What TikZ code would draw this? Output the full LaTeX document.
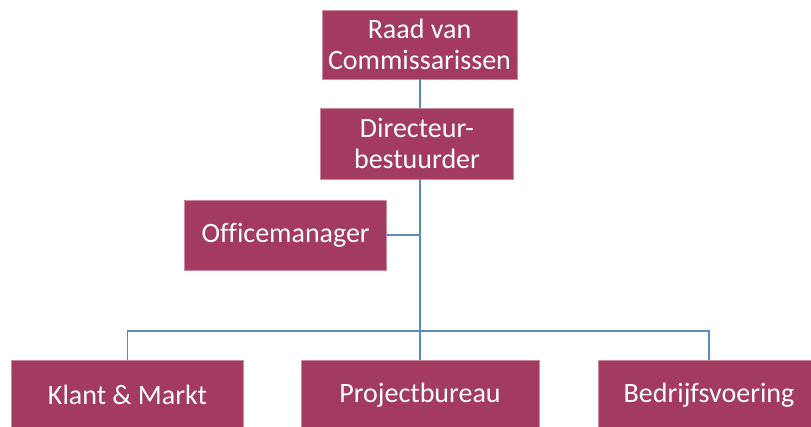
\documentclass[tikz,border=0pt]{standalone}
\usepackage{fontspec}
\setmainfont[Ligatures=NoCommon]{Carlito}
\definecolor{boxfill}{HTML}{A33A60}
\definecolor{boxline}{HTML}{C98AA2}
\definecolor{linkblue}{HTML}{5A8AC0}

\tikzset{
  unit/.style={draw=boxline, line width=0.6pt, fill=boxfill, text=white,
    align=center, inner sep=0pt, font=\fontsize{28}{30.5}\selectfont},
  link/.style={draw=linkblue, line width=1.8pt}
}

\begin{document}
\begin{tikzpicture}[x=1pt,y=-1pt]
\useasboundingbox (0,0) rectangle (811,427);
\clip (0,0) rectangle (811,427);
% top of the chart
\node[unit, minimum width=195, minimum height=69] (raad) at (419.5,44.5) {Raad van\\Commissarissen};
\node[unit, minimum width=193, minimum height=71] (dir) at (417,143.5) {Directeur-\\bestuurder};
\node[unit, minimum width=202, minimum height=70] (office) at (285.7,235.3) {Officemanager};
% departments
\node[unit, minimum width=232, minimum height=70] (klant) at (127.5,395) {Klant \& Markt};
\node[unit, minimum width=238, minimum height=70] (project) at (420,395) {Projectbureau};
\node[unit, minimum width=222, minimum height=70] (bedrijf) at (709,395) {Bedrijfsvoering};
\coordinate (hub) at (420,331);
% connectors
\draw[link] (hub |- raad.south) -- (hub |- dir.north);
\draw[link] (hub |- dir.south) -- (hub);
\draw[link] (office.east) -- (office.east -| hub);
\draw[link] (klant.north) |- (hub) -| (bedrijf.north);
\draw[link] (hub) -- (project.north);
\end{tikzpicture}
\end{document}
